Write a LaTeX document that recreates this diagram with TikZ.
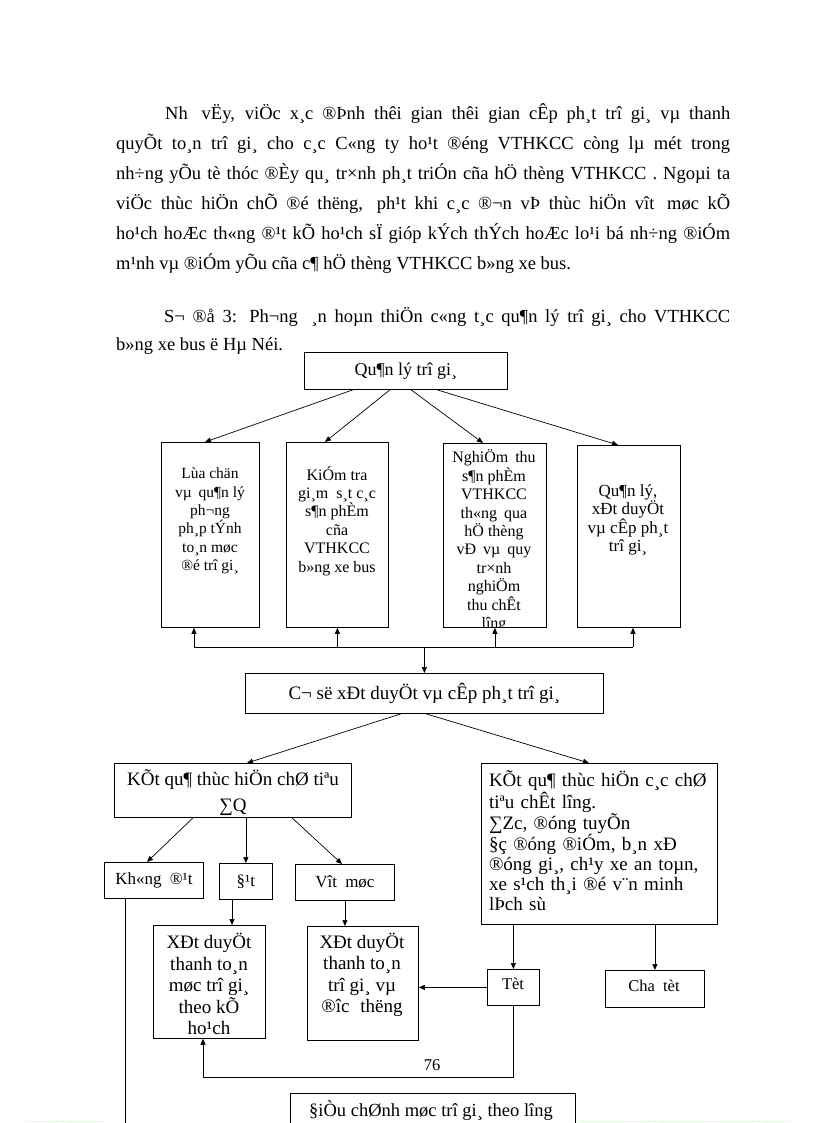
\documentclass[tikz,border=0pt]{standalone}
\usepackage{fontspec}
\setmainfont{Liberation Serif}
\usetikzlibrary{arrows.meta}
\newcommand\fsz[2]{\fontsize{#1}{#2}\selectfont}
\newcommand\jl[2]{\makebox[#1pt][s]{#2}}
\begin{document}
\begin{tikzpicture}[x=1pt,y=-1pt,
  box/.style={draw, line width=0.8pt, inner sep=0pt, anchor=north west},
  arr/.style={-{Triangle[length=6pt,width=5pt]}, line width=0.7pt},
  ln/.style={line width=0.7pt},
  txt/.style={inner sep=0pt, align=center},
  para/.style={inner sep=0pt, anchor=base west, font=\fsz{18.5}{22}}]
\useasboundingbox (0,0) rectangle (816,1123);
\fill[white] (0,0) rectangle (816,1123);

% paragraph
\node[para] (p1) at (165,120) {\jl{565}{Nh\hspace{5pt} vËy, viÖc x¸c ®Þnh thêi gian thêi gian cÊp ph¸t trî gi¸ vµ thanh}};
\node[para] (p2) at (116,150) {\jl{614}{quyÕt to¸n trî gi¸ cho c¸c C«ng ty ho¹t ®éng VTHKCC còng lµ mét trong}};
\node[para] (p3) at (116,180) {\jl{614}{nh÷ng yÕu tè thóc ®Èy qu¸ tr×nh ph¸t triÓn cña hÖ thèng VTHKCC . Ngoµi ta}};
\node[para] (p4) at (116,210) {\jl{614}{viÖc thùc hiÖn chÕ ®é thëng,\hspace{4pt} ph¹t khi c¸c ®¬n vÞ thùc hiÖn vît\hspace{4pt} møc kÕ}};
\node[para] (p5) at (116,240) {\jl{614}{ho¹ch hoÆc th«ng ®¹t kÕ ho¹ch sÏ gióp kÝch thÝch hoÆc lo¹i bá nh÷ng ®iÓm}};
\node[para] (p6) at (116,269) {m¹nh vµ ®iÓm yÕu cña c¶ hÖ thèng VTHKCC b»ng xe bus.};
\node[para] (s1) at (164,322) {\jl{566}{S¬ ®å 3: Ph¬ng\hspace{6pt} ¸n hoµn thiÖn c«ng t¸c qu¶n lý trî gi¸ cho VTHKCC}};
\node[para] (s2) at (116,350) {b»ng xe bus ë Hµ Néi.};

% top
\node[box, minimum width=203pt, minimum height=37pt] (Q) at (304,352) {\fsz{18}{22}Qu¶n lý trî gi¸};

\node[box, minimum width=98pt, minimum height=185pt] (b1) at (161,442) {};
\node[box, minimum width=102pt, minimum height=185pt] (b2) at (286,442) {};
\node[box, minimum width=103pt, minimum height=184pt] (b3) at (443,443) {};
\node[box, minimum width=103pt, minimum height=182pt] (b4) at (577,445) {};

\node[txt, font=\fsz{15.5}{18.4}] (b1t) at (210,521) {Lùa chän\\vµ\hspace{3pt} qu¶n lý\\ph¬ng\\ph¸p tÝnh\\to¸n møc\\®é trî gi¸};
\node[txt, font=\fsz{16}{18.4}] (b2t) at (337,521) {KiÓm tra\\gi¸m\hspace{4pt} s¸t c¸c\\s¶n phÈm\\cña\\VTHKCC\\b»ng xe bus};
\begin{scope}
  \clip (b3.north west) rectangle (b3.south east);
  \node[txt, font=\fsz{16}{18.4}] (b3t) at (494,541) {NghiÖm\hspace{3pt} thu\\s¶n phÈm\\VTHKCC\\th«ng\hspace{3pt} qua\\hÖ thèng\\vÐ\hspace{3pt} vµ\hspace{3pt} quy\\tr×nh\\nghiÖm\\thu chÊt\\lîng};
\end{scope}
\node[txt, font=\fsz{17}{18.4}] (b4t) at (628,520) {Qu¶n lý,\\xÐt duyÖt\\vµ cÊp ph¸t\\trî gi¸};

\draw[arr] ([xshift=49]Q.south west) -- ([xshift=44]b1.north west);
\draw[arr] ([xshift=86]Q.south west) -- ([xshift=39]b2.north west);
\draw[arr] ([xshift=107]Q.south west) -- ([xshift=40]b3.north west);
\draw[arr] ([xshift=133]Q.south west) -- ([xshift=41]b4.north west);

% bus
\coordinate (bL) at (194,647);
\coordinate (bR) at (633,647);
\node[box, minimum width=358pt, minimum height=40pt] (C) at (245,673) {\fsz{19}{22}C¬ së xÐt duyÖt vµ cÊp ph¸t trî gi¸};
\draw[ln] (bL) -- (bR);
\draw[arr] (bL) -- (bL |- b1.south);
\draw[arr] (b2.south |- bL) -- (b2.south);
\draw[arr] (b3.south |- bL) -- (b3.south);
\draw[arr] (bR) -- (bR |- b4.south);
\draw[arr] (bL -| C.north) -- (C.north);

% second level
\node[box, minimum width=237pt, minimum height=54pt] (K1) at (114,763) {};
\node[txt, font=\fsz{19}{26}] (K1t) at (233,793) {KÕt qu¶ thùc hiÖn chØ tiªu\\∑Q};
\node[box, minimum width=236pt, minimum height=161pt] (K2) at (481,763) {};
\node[inner sep=0pt, text width=216pt, align=left, font=\fsz{19}{20}] (K2t) at (597,841)
  {\jl{216}{KÕt qu¶ thùc hiÖn c¸c chØ}\\
   tiªu chÊt lîng.\\
   ∑Zc, ®óng tuyÕn\\
   \jl{216}{§ç ®óng ®iÓm, b¸n xÐ}\\
   \jl{216}{®óng gi¸, ch¹y xe an toµn,}\\
   \jl{216}{xe s¹ch th¸i ®é v¨n minh}\\
   lÞch sù};
\draw[arr] ([xshift=156]C.south west) -- ([xshift=133]K1.north west);
\draw[arr] ([xshift=181]C.south west) -- ([xshift=108]K2.north west);

% third level
\node[box, minimum width=99pt, minimum height=36pt] (N1) at (104,862) {\fsz{17}{20}Kh«ng\hspace{4pt} ®¹t};
\node[box, minimum width=53pt, minimum height=36pt] (N2) at (219,863) {\fsz{17}{20}§¹t};
\node[box, minimum width=99pt, minimum height=36pt] (N3) at (295,864) {\fsz{17}{20}Vît\hspace{4pt} møc};
\draw[arr] ([xshift=79]K1.south west) -- ([xshift=43]N1.north west);
\draw[arr] (K1.south -| N2.north) -- (N2.north);
\draw[arr] ([xshift=178]K1.south west) -- ([xshift=47]N3.north west);

\node[box, minimum width=112pt, minimum height=113pt] (A) at (153,925) {};
\node[txt, font=\fsz{19}{21.5}] (At) at (209,984) {XÐt duyÖt\\thanh to¸n\\møc trî gi¸\\theo kÕ\\ho¹ch};
\node[box, minimum width=111pt, minimum height=114pt] (B) at (307,926) {};
\node[txt, font=\fsz{19}{21.5}] (Bt) at (362,975) {XÐt duyÖt\\thanh to¸n\\trî gi¸ vµ\\®îc\hspace{6pt} thëng};
\node[box, minimum width=52pt, minimum height=36pt] (T) at (487,969) {};
\node[txt, font=\fsz{16.5}{18}] (Tt) at (513,984) {Tèt};
\node[box, minimum width=99pt, minimum height=37pt] (CT) at (605,970) {};
\node[txt, font=\fsz{16.5}{18}] (CTt) at (654,986) {Cha\hspace{4pt} tèt};

\coordinate (n2d) at ([xshift=13]N2.south west);
\draw[arr] (n2d) -- (n2d |- A.north);
\draw[arr] (N3.south) -- (N3.south |- B.north);
\coordinate (nend) at (125,1123);
\draw[ln] (N1.south -| nend) -- (nend);
\draw[arr] (T.north |- K2.south) -- (T.north);
\draw[arr] (CT.north |- K2.south) -- (CT.north);
\draw[arr] (T.west) -- (T.west -| B.east);
\coordinate (fb) at (203,1077);
\draw[arr] (T.south) |- (fb) -- (fb |- A.south);

\node[txt, font=\fsz{16.5}{20}] (pg) at (432,1065) {76};

\node[box, minimum width=285pt, minimum height=60pt] (D) at (290,1093) {};
\node[txt, font=\fsz{18.5}{20}] (Dt) at (431,1111) {§iÒu chØnh møc trî gi¸ theo lîng};

\draw[green!35!white, dotted, line width=0.6pt] (27,1121) -- (105,1121);
\draw[green!35!white, dotted, line width=0.6pt] (580,1121) -- (790,1121);
\end{tikzpicture}
\end{document}
